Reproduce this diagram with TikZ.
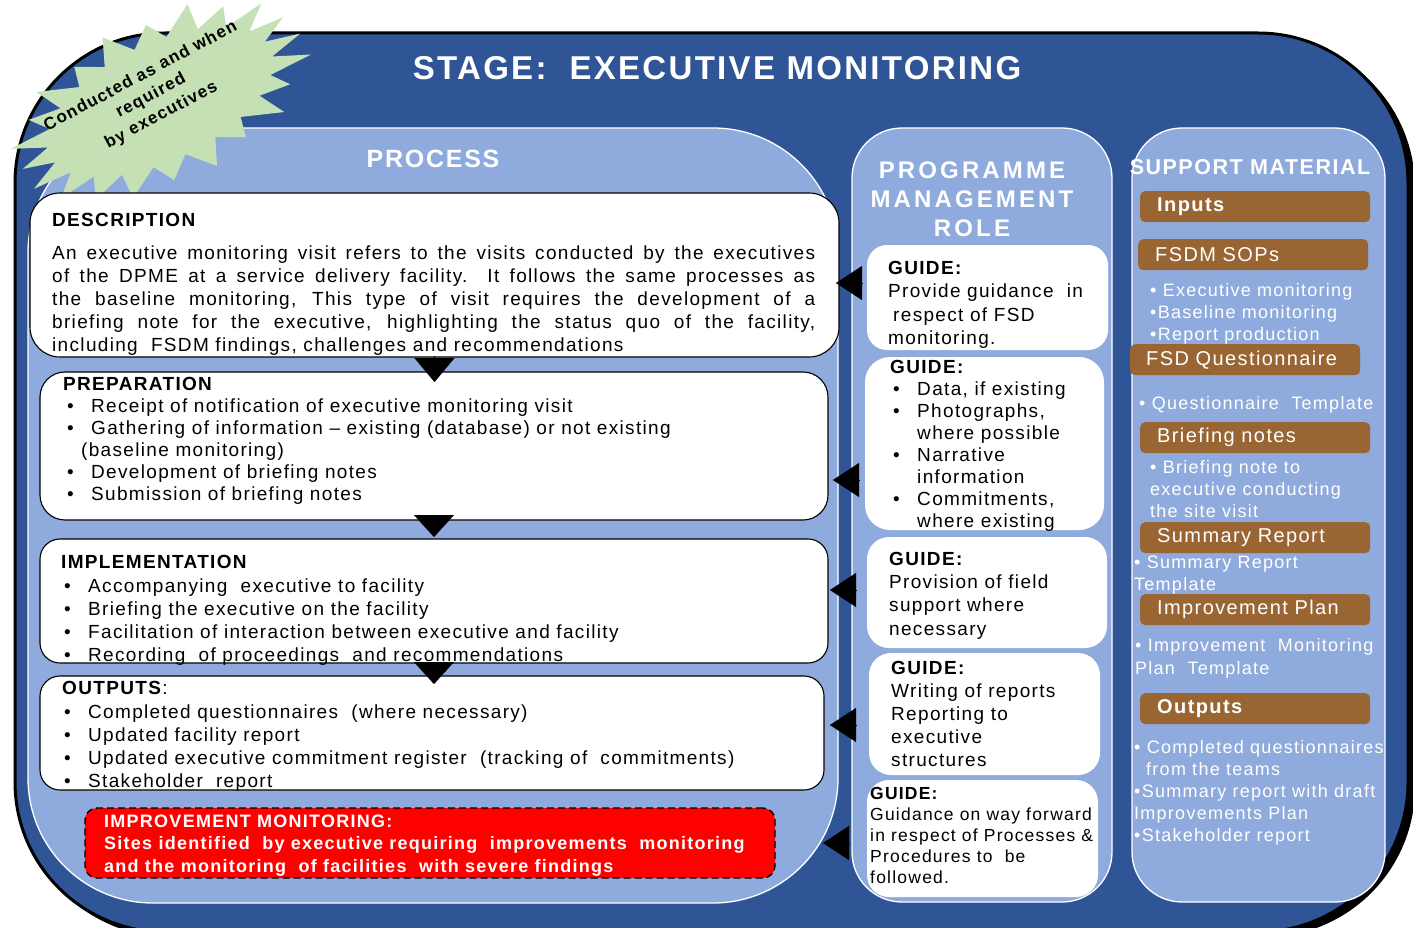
\documentclass[tikz,border=0pt]{standalone}
\usepackage{fontspec}
\setmainfont{Liberation Sans}[LetterSpace=7]
\usetikzlibrary{arrows.meta,calc}
\definecolor{dblue}{RGB}{47,85,151}
\definecolor{lblue}{RGB}{143,170,220}
\definecolor{sgreen}{RGB}{197,224,180}
\definecolor{bbrown}{RGB}{153,102,51}
\definecolor{rbox}{RGB}{255,0,0}
\newcommand{\fl}{\rule{0pt}{15pt}}
\newcommand{\bl}{\makebox[24pt][l]{•}}
\begin{document}
\begin{tikzpicture}[x=1pt,y=-1pt,
  box/.style={inner sep=0pt, outer sep=0pt, anchor=north west},
  panel/.style={box, fill=lblue, draw=white, line width=1.3pt},
  procbox/.style={box, fill=white, draw=black, line width=1.1pt},
  guidebox/.style={box, fill=white},
  brownbox/.style={fill=bbrown, rounded corners=5pt, anchor=north west, minimum height=31pt, inner ysep=0pt, inner xsep=17pt, text width=196pt, align=left, text=white, font=\fontsize{20}{22}\selectfont},
  tx/.style={anchor=north west, inner sep=0pt, align=left, font=\fontsize{19}{23}\selectfont},
  wt/.style={text=white},
  triL/.style={draw=black, line width=0.1pt, -{Triangle[length=26pt,width=34pt]}},
  triD/.style={draw=black, line width=0.1pt, -{Triangle[length=#1,width=40pt]}},
]
\useasboundingbox (0,0) rectangle (1413,928);
% outer frame
\fill[black, rounded corners=150pt] (20,38) rectangle (1415,937);
\filldraw[fill=dblue, draw=black, line width=3pt, rounded corners=150pt] (15,33) rectangle (1408,932);
\node[wt, anchor=base, inner sep=0pt, font=\fontsize{33}{36}\selectfont\bfseries] (title) at (717,80) {STAGE:\ \ EXECUTIVE MONITORING};
% panels
\node[panel, rounded corners=125pt, minimum width=810pt, minimum height=775pt] (proc) at (28,128) {};
\node[panel, rounded corners=50pt, minimum width=260pt, minimum height=774pt] (pm) at (852,128) {};
\node[panel, rounded corners=50pt, minimum width=253pt, minimum height=774pt] (sm) at (1132,128) {};
% starburst
\begin{scope}[shift={(160,102)}, x=1pt, y=1pt, rotate=26]
\fill[sgreen] (156,0) \foreach \i in {1,...,43} { -- ({(mod(\i,2)==0 ? 156*(1+0.05*sin(\i*97)) : 122)*cos(\i*360/44)}, {(mod(\i,2)==0 ? 80*(1+0.05*sin(\i*97)) : 58)*sin(\i*360/44)}) } -- cycle;
\end{scope}
\node[rotate=28, align=center, inner sep=0pt, font=\fontsize{17}{22}\selectfont\bfseries] (burst) at (151,96) {Conducted as and when\\required\\by executives};
% headers
\node[wt, anchor=base, inner sep=0pt, font=\fontsize{25}{28}\selectfont\bfseries] (prochead) at (433,168) {PROCESS};
\node[wt, anchor=north, align=center, inner sep=0pt, font=\fontsize{24}{29}\selectfont\bfseries\addfontfeature{LetterSpace=13}] (pmhead) at (972,160) {\rule{0pt}{18pt}PROGRAMME\\MANAGEMENT\\ROLE};
\node[wt, anchor=base, inner sep=0pt, font=\fontsize{21.5}{24}\selectfont\bfseries] (smhead) at (1250,175) {SUPPORT MATERIAL};
% process boxes
\node[procbox, rounded corners=30pt, minimum width=809pt, minimum height=164pt] (desc) at (30,193) {};
\node[procbox, rounded corners=25pt, minimum width=788pt, minimum height=148pt] (prep) at (40,372) {};
\node[procbox, rounded corners=20pt, minimum width=788pt, minimum height=124pt] (impl) at (40,539) {};
\node[procbox, rounded corners=20pt, minimum width=784pt, minimum height=114pt] (outs) at (40,676) {};
\node[box, fill=rbox, draw=black, line width=1.3pt, dash pattern=on 7pt off 4pt, rounded corners=12pt, minimum width=690pt, minimum height=70pt] (red) at (85,808) {};
\node[tx, font=\fontsize{19}{23}\selectfont\bfseries] (desct) at (52,211) {\fl DESCRIPTION};
\node[tx] (descb) at (52,244) {\fl\makebox[763pt][s]{An executive monitoring visit refers to the visits conducted by the executives}\\%
\makebox[763pt][s]{of the DPME at a service delivery facility. It follows the same processes as}\\%
\makebox[763pt][s]{the baseline monitoring, This type of visit requires the development of a}\\%
\makebox[763pt][s]{briefing note for the executive, highlighting the status quo of the facility,}\\%
including\ \ FSDM findings, challenges and recommendations};
\node[tx, font=\fontsize{19}{22}\selectfont] (prept) at (63,375) {\fl\textbf{PREPARATION}\\%
\hspace*{4pt}\bl Receipt of notification of executive monitoring visit\\%
\hspace*{4pt}\bl Gathering of information -- existing (database) or not existing\\%
\hspace*{18pt}(baseline monitoring)\\%
\hspace*{4pt}\bl Development of briefing notes\\%
\hspace*{4pt}\bl Submission of briefing notes};
\node[tx] (implt) at (61,553) {\fl\textbf{IMPLEMENTATION}\\[1pt]%
\hspace*{3pt}\bl Accompanying\ \ executive to facility\\%
\hspace*{3pt}\bl Briefing the executive on the facility\\%
\hspace*{3pt}\bl Facilitation of interaction between executive and facility\\%
\hspace*{3pt}\bl Recording\ \ of proceedings\ \ and recommendations};
\node[tx] (outst) at (62,679) {\fl\textbf{OUTPUTS}:\\[1pt]%
\hspace*{2pt}\bl Completed questionnaires\ \ (where necessary)\\%
\hspace*{2pt}\bl Updated facility report\\%
\hspace*{2pt}\bl Updated executive commitment register\ \ (tracking of\ \ commitments)\\%
\hspace*{2pt}\bl Stakeholder\ \ report};
\node[tx, wt, font=\fontsize{18}{22.5}\selectfont\bfseries] (redt) at (104,813) {\rule{0pt}{14pt}IMPROVEMENT MONITORING:\\%
Sites identified\ \ by executive requiring\ \ improvements\ \ monitoring\\%
and the monitoring\ \ of facilities\ \ with severe findings};
% guide boxes
\node[guidebox, rounded corners=20pt, minimum width=241pt, minimum height=105pt] (g1) at (867,245) {};
\node[guidebox, rounded corners=25pt, minimum width=239pt, minimum height=173pt] (g2) at (865,357) {};
\node[guidebox, rounded corners=22pt, minimum width=240pt, minimum height=111pt] (g3) at (867,537) {};
\node[guidebox, rounded corners=22pt, minimum width=231pt, minimum height=122pt] (g4) at (869,653) {};
\node[guidebox, rounded corners=22pt, minimum width=231pt, minimum height=117pt] (g5) at (867,780) {};
\node[tx, font=\fontsize{19}{23.5}\selectfont] (g1t) at (888,259) {\fl\textbf{GUIDE:}\\%
Provide guidance\ \ in\\%
\hspace*{5pt}respect of FSD\\%
monitoring.};
\node[tx, font=\fontsize{19}{22}\selectfont] (g2t) at (890,358) {\fl\textbf{GUIDE:}\\%
\hspace*{3pt}\bl Data, if existing\\%
\hspace*{3pt}\bl Photographs,\\%
\hspace*{27pt}where possible\\%
\hspace*{3pt}\bl Narrative\\%
\hspace*{27pt}information\\%
\hspace*{3pt}\bl Commitments,\\%
\hspace*{27pt}where existing};
\node[tx, font=\fontsize{19}{23.3}\selectfont] (g3t) at (889,550) {\fl\textbf{GUIDE:}\\%
Provision of field\\%
support where\\%
necessary};
\node[tx] (g4t) at (891,659) {\fl\textbf{GUIDE:}\\%
Writing of reports\\%
Reporting to\\%
executive\\%
structures};
\node[tx, font=\fontsize{17.5}{21}\selectfont] (g5t) at (870,786) {\rule{0pt}{13.5pt}\textbf{GUIDE:}\\%
Guidance on way forward\\%
in respect of Processes \&\\%
Procedures to\ \ be\\%
followed.};
% support material
\node[brownbox, font=\fontsize{20}{22}\selectfont\bfseries] (bin) at (1140,191) {Inputs};
\node[brownbox] (bsop) at (1138,239) {FSDM SOPs};
\node[brownbox, inner xsep=16pt, text width=198pt] (bfsd) at (1130,344) {FSD Questionnaire};
\node[brownbox] (bbrief) at (1140,422) {Briefing notes};
\node[brownbox] (bsum) at (1140,522) {Summary Report};
\node[brownbox] (bimp) at (1140,594) {Improvement Plan};
\node[brownbox, font=\fontsize{20}{22}\selectfont\bfseries] (bout) at (1140,693) {Outputs};
\node[tx, wt, font=\fontsize{18}{22}\selectfont] (s1) at (1150,282) {\rule{0pt}{14pt}• Executive monitoring\\%
•Baseline monitoring\\%
•Report production};
\node[tx, wt, font=\fontsize{18}{22}\selectfont] (s2) at (1139,395) {\rule{0pt}{14pt}• Questionnaire\ \ Template};
\node[tx, wt, font=\fontsize{18}{22}\selectfont] (s3) at (1150,459) {\rule{0pt}{14pt}• Briefing note to\\%
executive conducting\\%
the site visit};
\node[tx, wt, font=\fontsize{18}{22}\selectfont] (s4) at (1134,554) {\rule{0pt}{14pt}• Summary Report\\%
Template};
\node[tx, wt, font=\fontsize{18}{23}\selectfont] (s5) at (1135,637) {\rule{0pt}{14pt}• Improvement\ \ Monitoring\\%
Plan\ \ Template};
\node[tx, wt, font=\fontsize{18}{22}\selectfont] (s6) at (1134,739) {\rule{0pt}{14pt}• Completed questionnaires\\%
\hspace*{12pt}from the teams\\%
•Summary report with draft\\%
Improvements Plan\\%
•Stakeholder report};
% connectors (triangles)
\coordinate (ty1) at (0,283);
\coordinate (ty2) at (0,480);
\coordinate (ty3) at (0,590);
\coordinate (ty4) at (0,725);
\coordinate (ty5) at (0,843);
\draw[triL, shorten <=5pt, shorten >=-3pt] (g1.west |- ty1) -- (desc.east |- ty1);
\draw[triL, shorten <=6pt, shorten >=5pt] (g2.west |- ty2) -- (prep.east |- ty2);
\draw[triL, shorten <=11pt, shorten >=2pt] (g3.west |- ty3) -- (impl.east |- ty3);
\draw[triL, shorten <=13pt, shorten >=6pt] (g4.west |- ty4) -- (outs.east |- ty4);
\draw[triL, shorten <=18pt, shorten >=-15pt] (g5.west |- ty5) -- (proc.east |- ty5);
\draw[triD=24pt, shorten <=-1pt, shorten >=-10pt] (desc.south) -- (desc.south |- prep.north);
\draw[triD=22pt, shorten <=-5pt, shorten >=2pt] (prep.south) -- (prep.south |- impl.north);
\draw[triD=22pt, shorten <=-1pt, shorten >=-8pt] (impl.south) -- (impl.south |- outs.north);
\end{tikzpicture}
\end{document}
